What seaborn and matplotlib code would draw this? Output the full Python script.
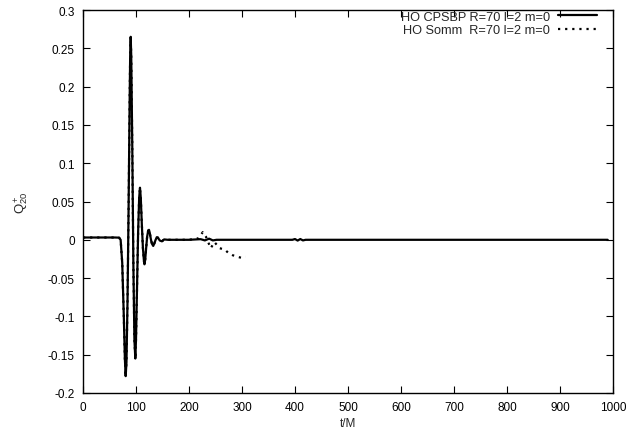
import numpy as np
import pandas as pd
import matplotlib
matplotlib.use("Agg")
import matplotlib.pyplot as plt
import seaborn as sns

# HO CPSBP R=70 l=2 m=0 (solid)
t_cpsbp = [0, 60, 68, 71, 74, 77, 79, 80.5, 82, 84, 86, 88, 89, 90, 91, 93, 95, 97,
           98.7, 100, 102, 104, 106, 107.5, 109, 111, 113, 115, 116, 117.5, 119, 121,
           123, 124.5, 126, 128, 130, 132.5, 135, 137, 139, 141, 143, 145, 149, 153,
           160, 200, 222, 230, 238, 245, 252, 395, 400, 405, 410, 415, 420, 990]
q_cpsbp = [0.003, 0.003, 0.0028, 0.0, -0.03, -0.1, -0.155, -0.178, -0.16, -0.08, 0.04,
           0.18, 0.24, 0.265, 0.24, 0.12, -0.03, -0.13,
           -0.155, -0.13, -0.06, 0.01, 0.055, 0.068, 0.055, 0.02, -0.01, -0.028, -0.032,
           -0.025, -0.012, 0.004,
           0.012, 0.013, 0.009, 0.001, -0.005, -0.008, -0.004, 0.0, 0.003, 0.003, 0.001,
           -0.001, -0.002, 0.0005,
           0.0, 0.0, 0.0008, -0.0008, 0.0015, -0.0008, 0.0, 0.0, 0.001, -0.001, 0.001,
           -0.0008, 0.0, 0.0]

# HO Somm R=70 l=2 m=0 (dotted)
t_somm = [0, 60, 68, 71, 74, 77, 79, 80.5, 82, 84, 86, 88, 89, 90, 91, 93, 95, 97,
          98.7, 100, 102, 104, 106, 107.5, 109, 111, 113, 115, 116, 117.5, 119, 121,
          123, 124.5, 126, 128, 130, 132.5, 135, 137, 139, 141, 143, 145, 149, 153,
          160, 200, 218, 226, 232, 241, 248, 258, 268, 274, 282, 290, 299, 307]
q_somm = [0.003, 0.003, 0.0028, 0.0, -0.03, -0.1, -0.155, -0.178, -0.16, -0.08, 0.04,
          0.18, 0.24, 0.265, 0.24, 0.12, -0.03, -0.13,
          -0.155, -0.13, -0.06, 0.01, 0.055, 0.068, 0.055, 0.02, -0.01, -0.028, -0.032,
          -0.025, -0.012, 0.004,
          0.012, 0.013, 0.009, 0.001, -0.005, -0.008, -0.004, 0.0, 0.003, 0.003, 0.001,
          -0.001, -0.002, 0.0005,
          0.0, 0.0, 0.002, 0.01, 0.004, -0.011, -0.003, -0.011, -0.013, -0.017, -0.02,
          -0.022, -0.0235, -0.022]

x_ticks = [0, 100, 200, 300, 400, 500, 600, 700, 800, 900, 1000]
y_ticks = [-0.2, -0.15, -0.1, -0.05, 0, 0.05, 0.1, 0.15, 0.2, 0.25, 0.3]
y_labels = ["-0.2", "-0.15", "-0.1", "-0.05", "0", "0.05", "0.1", "0.15", "0.2", "0.25", "0.3"]

sns.set_style("ticks")
plt.rcParams['font.family'] = ['Liberation Sans', 'DejaVu Sans']
plt.rcParams['mathtext.fontset'] = 'custom'
plt.rcParams['mathtext.rm'] = 'Liberation Sans'
plt.rcParams['mathtext.it'] = 'Liberation Sans'

fig = plt.figure(figsize=(6.3, 4.39), dpi=100)
ax = fig.add_axes([83 / 630, 1 - 394 / 439, 530 / 630, 383 / 439])

df1 = pd.DataFrame({"t": t_cpsbp, "q": q_cpsbp})
df2 = pd.DataFrame({"t": t_somm, "q": q_somm})

sns.lineplot(data=df2, x="t", y="q", ax=ax, color="black", lw=1.6,
             linestyle=(0, (1, 2.2)), label="HO Somm  R=70 l=2 m=0", sort=False)
sns.lineplot(data=df1, x="t", y="q", ax=ax, color="black", lw=1.6,
             label="HO CPSBP R=70 l=2 m=0", sort=False)

ax.set_xlim(0, 1000)
ax.set_ylim(-0.2, 0.3)
ax.set_xticks(x_ticks)
ax.set_xticklabels([str(v) for v in x_ticks])
ax.set_yticks(y_ticks)
ax.set_yticklabels(y_labels)
ax.tick_params(direction='in', length=5, width=0.8, top=True, right=True,
               labelsize=8.5, colors='black', pad=6)
for s in ax.spines.values():
    s.set_linewidth(1.0)
    s.set_color('black')
ax.set_xlabel("t/M", fontsize=8.5, labelpad=3)
ax.set_ylabel(r"Q$^+_{20}$", fontsize=9.5, labelpad=12)

handles, labels = ax.get_legend_handles_labels()
order = [1, 0]
ax.legend([handles[i] for i in order], [labels[i] for i in order],
          loc='upper right', bbox_to_anchor=(0.97, 0.998), frameon=False,
          markerfirst=False, fontsize=9.2, borderpad=0, borderaxespad=0,
          handlelength=3.05, handletextpad=0.62, labelspacing=0.12)

fig.savefig("out.png", dpi=100)
